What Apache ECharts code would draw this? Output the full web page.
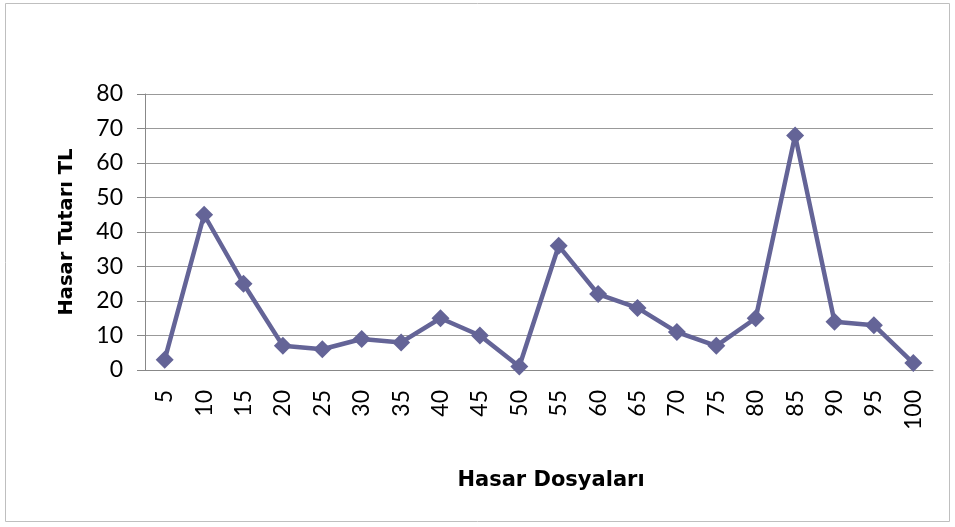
<!DOCTYPE html>
<html><head><meta charset="utf-8">
<script src="https://cdn.jsdelivr.net/npm/echarts@6/dist/echarts.min.js"></script>
<style>html,body{margin:0;padding:0;background:#fff}#c{width:955px;height:527px}</style>
</head><body><div id="c"></div>
<script>
const categories = ['5','10','15','20','25','30','35','40','45','50','55','60','65','70','75','80','85','90','95','100'];
const values = [3,45,25,7,6,9,8,15,10,1,36,22,18,11,7,15,68,14,13,2];
const yTicks = [0,10,20,30,40,50,60,70,80];
const xTitle = 'Hasar Dosyaları';
const yTitle = 'Hasar Tutarı TL';

const chart = echarts.init(document.getElementById('c'));
chart.setOption({
  animation:false,
  backgroundColor:'#fff',
  graphic:[{type:'rect',shape:{x:5.5,y:3.5,width:944,height:518},style:{fill:'none',stroke:'#bfbfbf',lineWidth:1}}],
  grid:{left:145,right:22,top:94,bottom:157},
  xAxis:{type:'category',data:categories,boundaryGap:true,
    name:xTitle,nameLocation:'middle',nameGap:100,
    nameTextStyle:{fontFamily:'DejaVu Sans',fontWeight:'bold',fontSize:21,color:'#000',padding:[0,0,0,24]},
    axisLine:{show:true,lineStyle:{color:'#888',width:1}},
    axisTick:{show:false},
    axisLabel:{rotate:90,fontFamily:'Lato',fontSize:23,color:'#000',margin:20}},
  yAxis:{type:'value',min:yTicks[0],max:yTicks[yTicks.length-1],interval:10,
    name:yTitle,nameLocation:'middle',nameGap:68,
    nameTextStyle:{fontFamily:'DejaVu Sans',fontWeight:'bold',fontSize:19.5,color:'#000'},
    axisLine:{show:true,lineStyle:{color:'#888',width:1}},
    axisTick:{show:true,length:8,lineStyle:{color:'#888'}},
    splitLine:{lineStyle:{color:'#999',width:1}},
    axisLabel:{fontFamily:'Lato',fontSize:23,color:'#000',margin:22}},
  series:[{type:'line',data:values,symbol:'diamond',symbolSize:18,
    lineStyle:{color:'#646497',width:4.5},itemStyle:{color:'#646497'}}]
});
</script></body></html>
